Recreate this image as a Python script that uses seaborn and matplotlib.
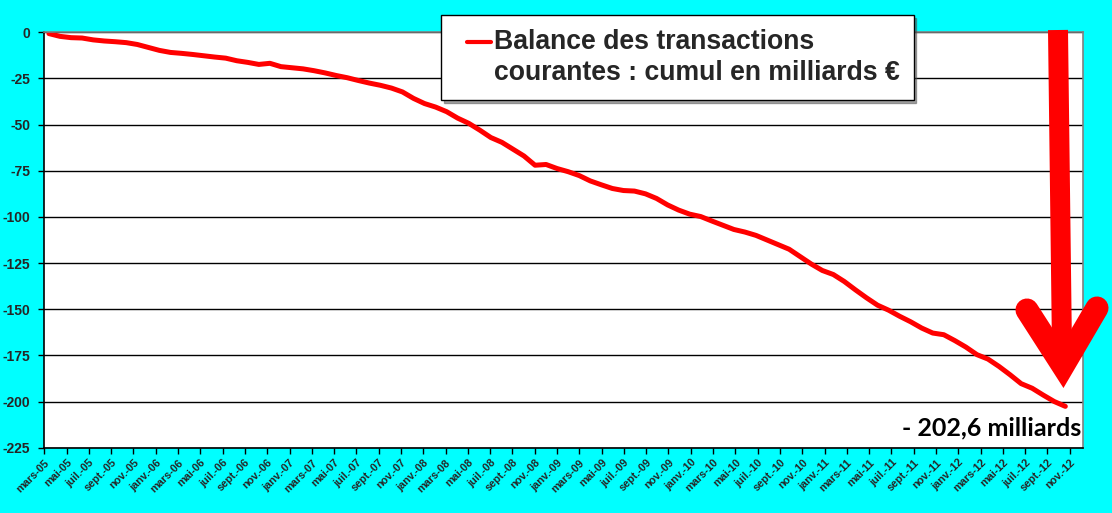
import matplotlib.pyplot as plt
import numpy as np
import pandas as pd
import seaborn as sns
from matplotlib.lines import Line2D
from matplotlib.legend_handler import HandlerLine2D

# Cumulative current account balance (billions EUR), monthly, March 2005 - November 2012
months = pd.date_range("2005-03-01", "2012-11-01", freq="MS")
cumul = [
    -0.7, -2.2, -2.9, -3.1, -4.1, -4.7, -5.1, -5.6, -6.6, -8.2,
    -9.8, -10.9, -11.4, -12.0, -12.7, -13.4, -14.0, -15.4, -16.3, -17.4,
    -16.8, -18.6, -19.2, -19.8, -20.8, -22.0, -23.4, -24.6, -26.1, -27.5,
    -28.7, -30.2, -32.3, -35.8, -38.6, -40.5, -43.0, -46.5, -49.3, -53.0,
    -57.0, -59.6, -63.3, -67.0, -72.0, -71.6, -73.8, -75.5, -77.6, -80.5,
    -82.6, -84.6, -85.7, -86.0, -87.5, -90.0, -93.5, -96.3, -98.5, -99.8,
    -102.2, -104.5, -106.8, -108.2, -110.0, -112.5, -115.0, -117.5, -121.5, -125.5,
    -129.0, -131.2, -135.0, -139.5, -143.8, -147.8, -150.5, -153.8, -156.8, -160.2,
    -162.9, -163.8, -167.0, -170.5, -174.6, -177.0, -181.0, -185.5, -190.3, -192.8,
    -196.5, -200.0, -202.6,
]
mois = ["janv.", "févr.", "mars", "avr.", "mai", "juin",
        "juil.", "août", "sept.", "oct.", "nov.", "déc."]
tick_labels = [f"{mois[d.month - 1]}-{d.strftime('%y')}" for d in months[::2]]
y_ticks = list(range(0, -226, -25))
legend_label = "Balance des transactions\ncourantes : cumul en milliards €"
note = "- 202,6 milliards"

df = pd.DataFrame({"pos": np.arange(len(cumul)), "value": cumul})

sns.set_style("white")
plt.rcParams["font.family"] = ["Liberation Sans", "DejaVu Sans"]

W, H = 1112, 513
fig = plt.figure(figsize=(W / 100, H / 100), dpi=100, facecolor="#00FFFF")
ax = fig.add_axes([44.3 / W, 1 - 447.7 / H, (1083 - 44.3) / W, (447.7 - 32.3) / H])
ax.set_facecolor("white")

sns.lineplot(data=df, x="pos", y="value", ax=ax, color="#FF0000", linewidth=3.6,
             label=legend_label, legend=False)

ax.set_xlim(-0.42, 93.6)
ax.set_ylim(-225, 0)
ax.set_yticks(y_ticks)
ax.set_yticklabels([str(v) for v in y_ticks], fontsize=10, fontweight="bold")
ax.yaxis.grid(True, color="black", linewidth=1.0)
ax.set_axisbelow(True)

tick_pos = np.linspace(-0.42, 92.4, len(tick_labels))
ax.set_xticks(tick_pos)
ax.set_xticklabels(tick_labels, rotation=45, ha="right", rotation_mode="anchor",
                   fontsize=7.8, fontweight="bold")
ax.tick_params(axis="both", direction="out", length=4, width=1, color="black",
               left=True, bottom=True)
ax.tick_params(axis="y", pad=6)
ax.tick_params(axis="x", pad=3)
ax.set_xlabel("")
ax.set_ylabel("")

for side in ["top", "right"]:
    ax.spines[side].set_color("#808080")
    ax.spines[side].set_linewidth(1.2)
for side in ["left", "bottom"]:
    ax.spines[side].set_color("black")
    ax.spines[side].set_linewidth(1.2)


class FirstLineHandler(HandlerLine2D):
    # put the legend line next to the first text line, a bit indented
    def create_artists(self, legend, orig_handle, xdescent, ydescent,
                       width, height, fontsize, trans):
        arts = super().create_artists(legend, orig_handle, xdescent, ydescent,
                                      width, height, fontsize, trans)
        for a in arts:
            yd = np.asarray(a.get_ydata(), dtype=float)
            a.set_ydata(yd + 0.6 * fontsize)
            xd = np.asarray(a.get_xdata(), dtype=float)
            if len(xd) >= 2:
                xd = np.linspace(xd[0] + 0.45 * fontsize, xd[-1], len(xd))
                a.set_xdata(xd)
        return arts


handles, labels = ax.get_legend_handles_labels()
leg = fig.legend(handles, labels, loc="upper left",
                 bbox_to_anchor=(441 / W, 1 - 15 / H), borderaxespad=0,
                 fancybox=False, shadow=True, framealpha=1, edgecolor="black",
                 prop={"family": "Liberation Sans", "weight": "bold", "size": 19.2},
                 handlelength=1.35, handletextpad=0.1, borderpad=0.53,
                 handler_map={handles[0]: FirstLineHandler()})
leg.get_frame().set_linewidth(1.0)
for line in leg.get_lines():
    line.set_linewidth(3.0)
for t in leg.get_texts():
    t.set_linespacing(1.25)

ax.text(93.4, -214.5, note, ha="right", va="center", fontsize=18,
        fontweight="bold", family=["Lato", "DejaVu Sans"], color="black")


# big red arrow drawn over the figure
def px(x, y):
    return x / W, 1 - y / H


sx, sy = zip(px(1058, 30), px(1062, 350))
fig.add_artist(Line2D(sx, sy, transform=fig.transFigure, color="#FF0000",
                      linewidth=14.4, solid_capstyle="butt"))
vx, vy = zip(px(1027, 310), px(1063, 366), px(1097, 308))
fig.add_artist(Line2D(vx, vy, transform=fig.transFigure, color="#FF0000",
                      linewidth=16.6, solid_capstyle="round", solid_joinstyle="miter"))

fig.savefig("out.png", dpi=100, facecolor=fig.get_facecolor())
